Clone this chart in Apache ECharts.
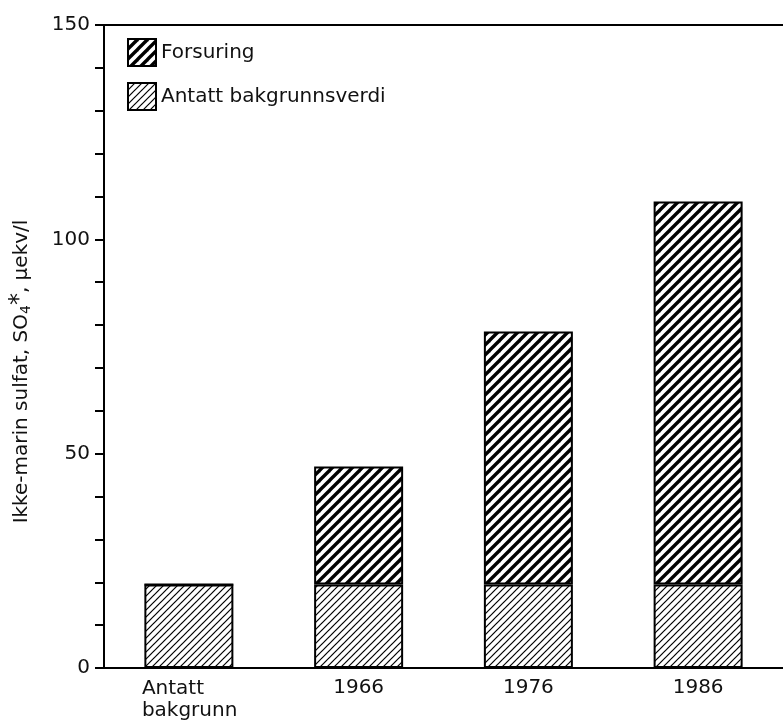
<!DOCTYPE html>
<html>
<head>
<meta charset="utf-8">
<script src="https://cdn.jsdelivr.net/npm/echarts@6/dist/echarts.min.js"></script>
<style>
  html, body { margin: 0; padding: 0; background: #fff; }
  #main { width: 783px; height: 721px; }
</style>
</head>
<body>
<div id="main"></div>
<script>
// data
var categories = ['Antatt bakgrunn', '1966', '1976', '1986'];
var background = [19.5, 19.5, 19.5, 19.5];
var acidification = [0, 27.5, 59, 89.3];
var seriesNames = ['Antatt bakgrunnsverdi', 'Forsuring'];

// diagonal hatch as a canvas pattern
function hatch(size, lineWidth) {
  var c = document.createElement('canvas');
  c.width = size;
  c.height = size;
  var ctx = c.getContext('2d');
  ctx.fillStyle = '#fff';
  ctx.fillRect(0, 0, size, size);
  ctx.strokeStyle = '#000';
  ctx.lineWidth = lineWidth;
  // lines run past the tile so the seams join up
  for (var k = -1; k <= 1; k++) {
    ctx.beginPath();
    ctx.moveTo(k * size - size, 2 * size);
    ctx.lineTo(k * size + 2 * size, -size);
    ctx.stroke();
  }
  return { image: c, repeat: 'repeat' };
}

var chart = echarts.init(document.getElementById('main'));
var font = 'DejaVu Sans';

var option = {
  animation: false,
  textStyle: { fontFamily: font, color: '#111' },
  grid: { left: 96, right: -10, top: 25, bottom: 53 },
  legend: {
    orient: 'vertical',
    left: 122,
    top: 33,
    itemWidth: 28,
    itemHeight: 27,
    itemGap: 15,
    icon: 'rect',
    data: ['Forsuring', 'Antatt bakgrunnsverdi'],
    textStyle: { fontFamily: font, fontSize: 20, color: '#111' }
  },
  xAxis: [{
    type: 'category',
    data: categories,
    axisLine: { lineStyle: { color: '#000', width: 2 } },
    axisTick: { show: false },
    axisLabel: {
      interval: 0,
      margin: 10,
      fontSize: 20,
      color: '#111',
      formatter: function (v, i) {
        if (i === 0) return '{l|Antatt}\n{l|bakgrunn}';
        return v;
      },
      rich: { l: { width: 94, align: 'left', fontSize: 20, lineHeight: 22, fontFamily: font } }
    }
  }, {
    type: 'category',
    position: 'top',
    data: categories,
    axisLine: { lineStyle: { color: '#000', width: 2 } },
    axisTick: { show: false },
    axisLabel: { show: false }
  }],
  yAxis: {
    type: 'value',
    min: 0,
    max: 150,
    interval: 10,
    name: 'Ikke-marin sulfat, SO{sub|4}{sup|*}, µekv/l',
    nameLocation: 'middle',
    nameGap: 68,
    nameRotate: 90,
    nameTextStyle: {
      fontSize: 20,
      color: '#111',
      padding: [0, 50, 0, 0],
      rich: {
        sub: { fontSize: 14, padding: [9, 0, 0, 0], fontFamily: font },
        sup: { fontSize: 24, padding: [0, 0, 4, 0], fontFamily: font }
      }
    },
    axisLine: { show: true, lineStyle: { color: '#000', width: 2 } },
    axisTick: { show: true, inside: false, length: 9, lineStyle: { color: '#000', width: 2 } },
    splitLine: { show: false },
    axisLabel: {
      margin: 14,
      fontSize: 20,
      color: '#111',
      formatter: function (v) { return v % 50 === 0 ? v : ''; }
    }
  },
  series: [{
    name: seriesNames[0],
    type: 'bar',
    stack: 'tot',
    barWidth: 89,
    data: background,
    itemStyle: { color: hatch(7, 1.2), borderColor: '#000', borderWidth: 2 }
  }, {
    name: seriesNames[1],
    type: 'bar',
    stack: 'tot',
    barWidth: 89,
    data: acidification,
    itemStyle: { color: hatch(10, 3.4), borderColor: '#000', borderWidth: 2 }
  }]
};

if (option && typeof option === 'object') {
  chart.setOption(option);
}
window.addEventListener('resize', chart.resize);
</script>
</body>
</html>
